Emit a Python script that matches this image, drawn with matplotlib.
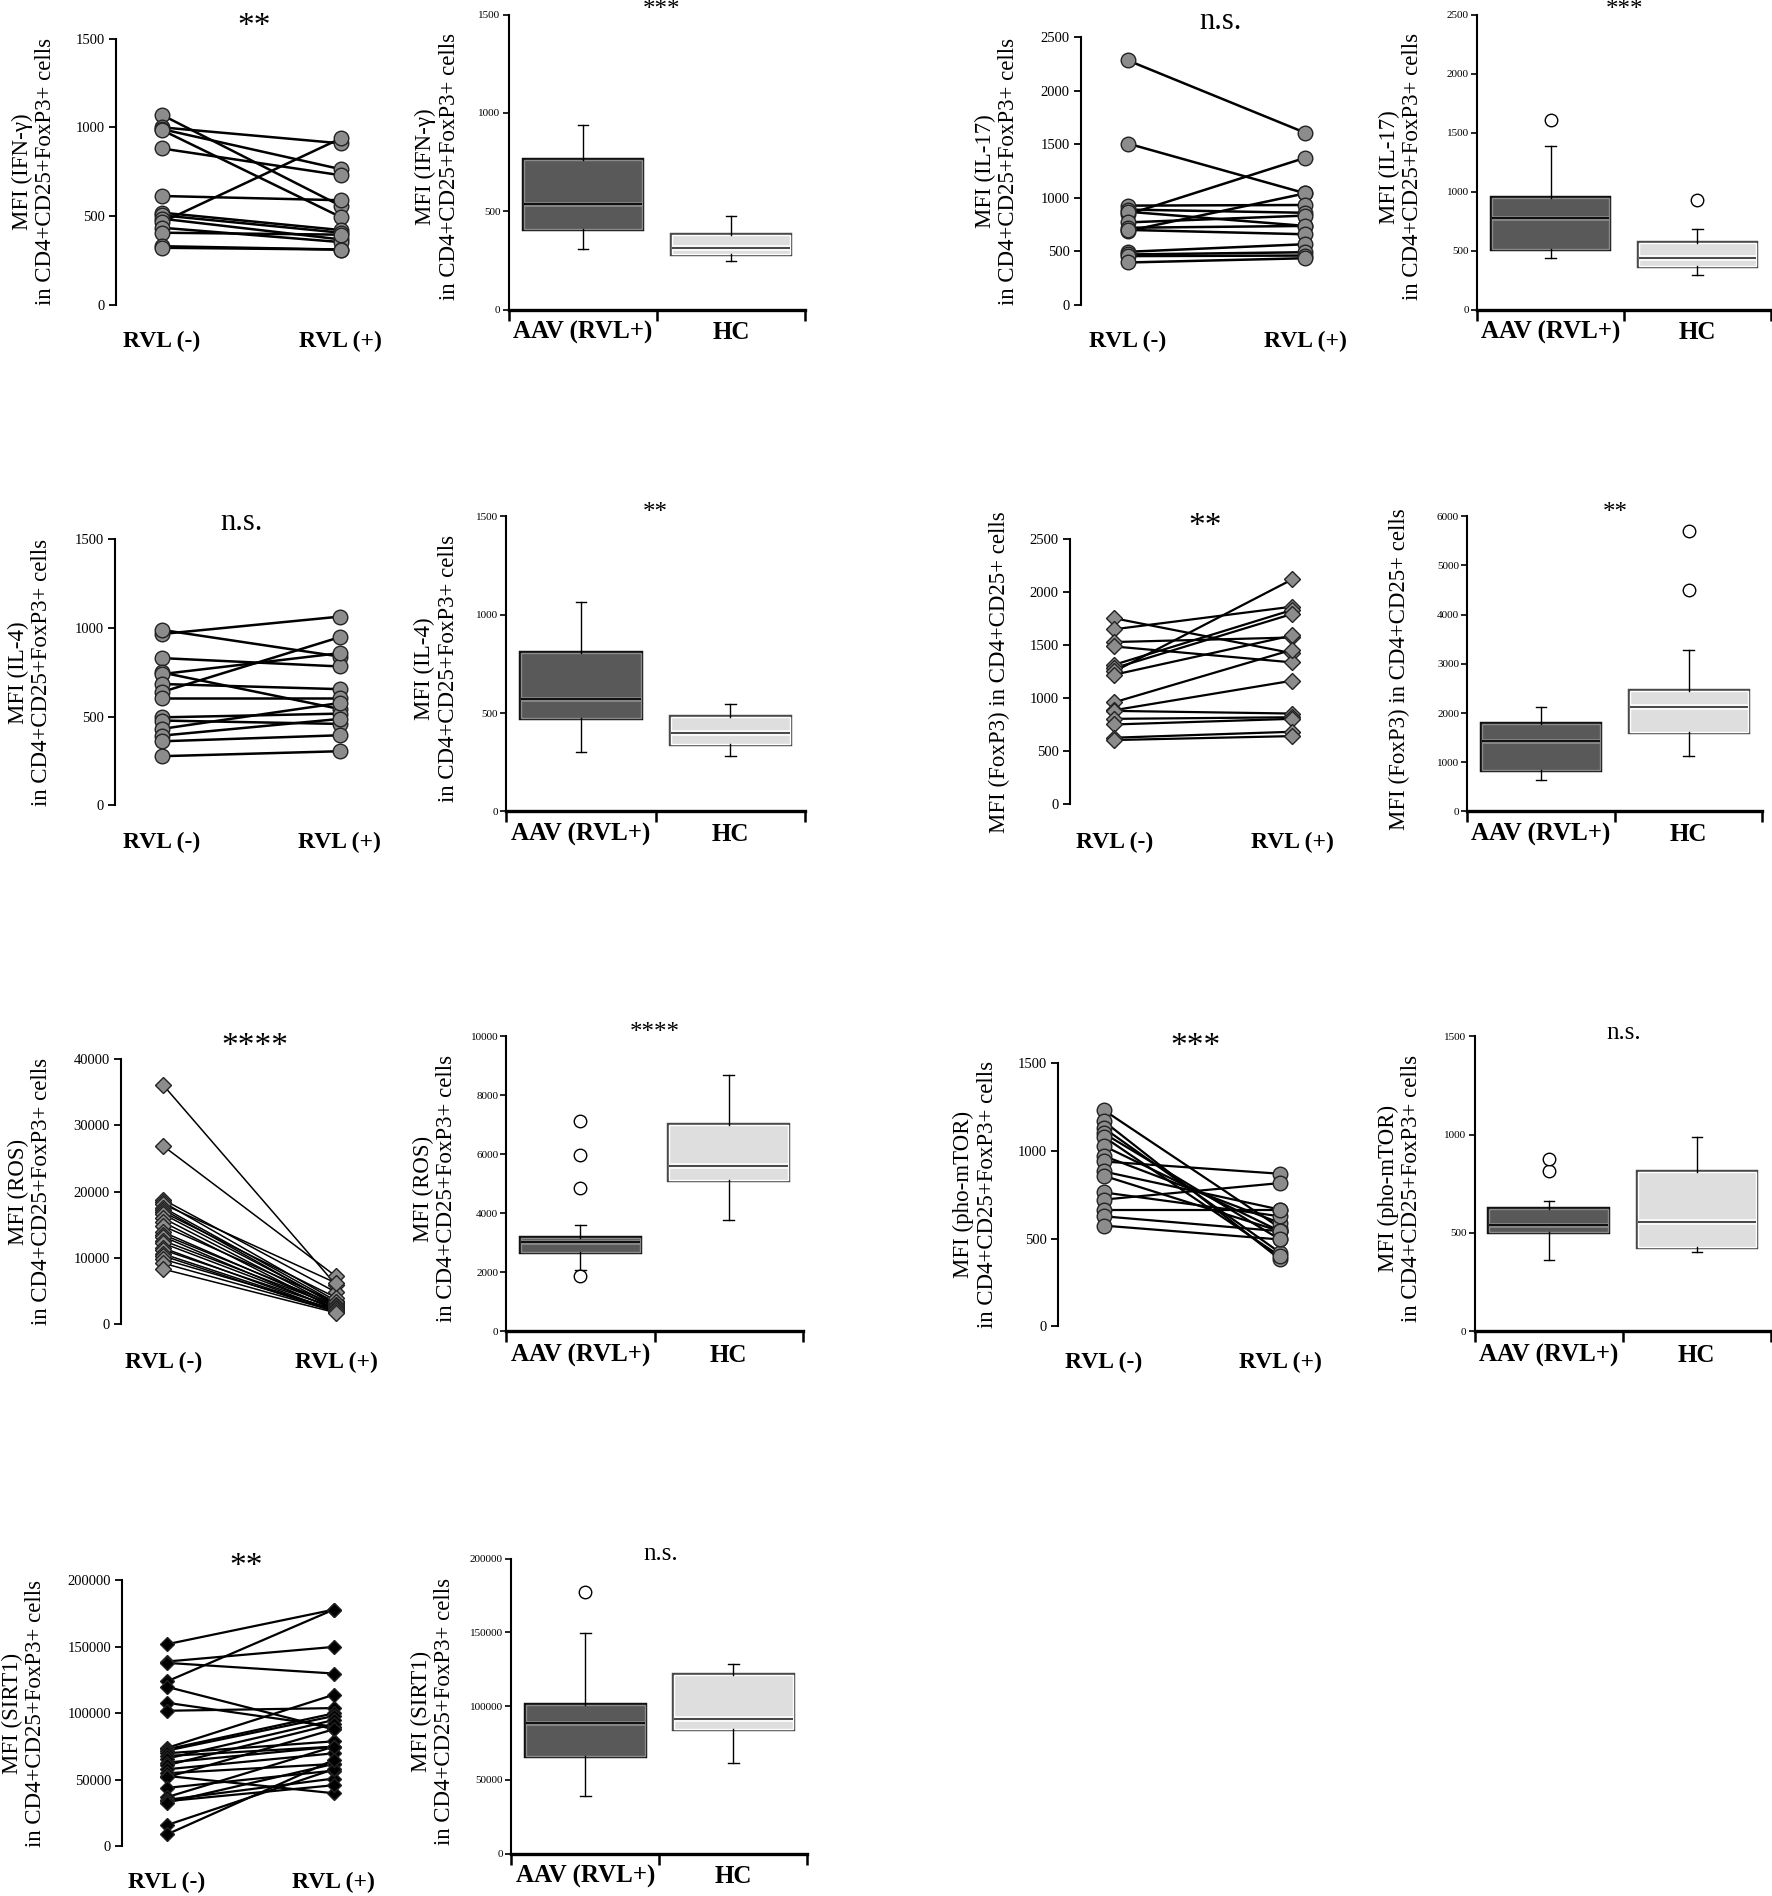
import matplotlib
matplotlib.use("Agg")
import matplotlib.pyplot as plt
import matplotlib.patheffects as pe

plt.rcParams['font.family'] = ['Liberation Serif', 'DejaVu Serif']

# ---------------- DATA ----------------
pair_labels = ["RVL (-)", "RVL (+)"]
box_labels = ["AAV (RVL+)", "HC"]

# IFN-gamma
ifn_rvl_neg = [1070, 1000, 990, 985, 881, 613, 519, 504, 485, 465, 434, 406, 330, 321]
ifn_rvl_pos = [557, 910, 764, 494, 730, 589, 421, 406, 368, 938, 353, 395, 311, 311]
ifn_aav = dict(q1=411, med=538, q3=761, whislo=309, whishi=937, fliers=[])
ifn_hc = dict(q1=280, med=314, q3=379, whislo=246, whishi=475, fliers=[])
ifn_ticks = [0, 500, 1000, 1500]

# IL-17
il17_rvl_neg = [2286, 1508, 845, 690, 927, 890, 870, 770, 720, 700, 495, 470, 455, 395]
il17_rvl_pos = [1608, 1042, 1375, 1042, 933, 860, 737, 834, 737, 659, 566, 491, 460, 435]
il17_aav = dict(q1=510, med=779, q3=943, whislo=439, whishi=1387, fliers=[1603])
il17_hc = dict(q1=368, med=439, q3=566, whislo=297, whishi=680, fliers=[929])
il17_ticks = [0, 500, 1000, 1500, 2000, 2500]

# IL-4
il4_rvl_neg = [966, 989, 830, 749, 740, 684, 639, 605, 496, 478, 431, 393, 361, 277]
il4_rvl_pos = [1064, 839, 783, 543, 858, 655, 948, 605, 517, 459, 577, 487, 395, 305]
il4_aav = dict(q1=476, med=569, q3=807, whislo=302, whishi=1064, fliers=[])
il4_hc = dict(q1=345, med=396, q3=481, whislo=282, whishi=545, fliers=[])
il4_ticks = [0, 500, 1000, 1500]

# FoxP3
foxp3_rvl_neg = [1754, 1651, 1530, 1488, 1316, 1284, 1253, 1222, 962, 887, 880, 805, 752, 627, 605]
foxp3_rvl_pos = [1425, 1864, 1573, 1338, 1833, 1795, 2121, 1592, 1457, 1165, 855, 820, 805, 683, 642]
foxp3_aav = dict(q1=849, med=1427, q3=1773, whislo=632, whishi=2113, fliers=[])
foxp3_hc = dict(q1=1617, med=2127, q3=2446, whislo=1121, whishi=3282, fliers=[4505, 5694])
foxp3_pair_ticks = [0, 500, 1000, 1500, 2000, 2500]
foxp3_box_ticks = [0, 1000, 2000, 3000, 4000, 5000, 6000]

# ROS
ros_rvl_neg = [36100, 26900, 18800, 18400, 18100, 17600, 17300, 16900, 16600, 16000, 15400, 14800,
               13900, 13500, 13200, 12600, 12200, 11500, 11200, 10600, 10300, 9800, 9200, 8300]
ros_rvl_pos = [5900, 7200, 4800, 3500, 6200, 3200, 2800, 4000, 3000, 2600, 2200, 3300,
               2500, 2900, 2100, 2700, 2300, 1900, 2400, 2000, 1800, 2200, 1900, 1700]
ros_aav = dict(q1=2689, med=3028, q3=3164, whislo=2090, whishi=3616, fliers=[1864, 4859, 5989, 7141])
ros_hc = dict(q1=5119, med=5593, q3=6983, whislo=3763, whishi=8678, fliers=[])
ros_pair_ticks = [0, 10000, 20000, 30000, 40000]
ros_box_ticks = [0, 2000, 4000, 6000, 8000, 10000]

# pho-mTOR
mtor_rvl_neg = [1232, 1169, 1130, 1100, 1080, 1028, 971, 939, 882, 858, 763, 722, 665, 627, 574]
mtor_rvl_pos = [561, 382, 420, 495, 400, 542, 589, 869, 665, 542, 627, 816, 665, 542, 495]
mtor_aav = dict(q1=503, med=542, q3=622, whislo=364, whishi=664, fliers=[817, 878])
mtor_hc = dict(q1=427, med=556, q3=810, whislo=403, whishi=986, fliers=[])
mtor_ticks = [0, 500, 1000, 1500]

# SIRT1
sirt_rvl_neg = [152000, 139000, 138000, 124000, 120000, 108000, 102000, 74000, 73000, 72000, 70000,
                68000, 66000, 63000, 61000, 58000, 55000, 53000, 52000, 44000, 37000, 35000, 34000,
                33000, 16000, 9000]
sirt_rvl_pos = [178000, 150000, 130000, 178000, 88000, 90000, 104000, 114000, 100000, 98000, 79000,
                75000, 95000, 75000, 92000, 70000, 62000, 40000, 88000, 57000, 75000, 51000, 46000,
                62000, 58000, 65000]
sirt_aav = dict(q1=66100, med=88700, q3=101100, whislo=39400, whishi=149800, fliers=[177400])
sirt_hc = dict(q1=84200, med=91600, q3=120800, whislo=61500, whishi=128700, fliers=[])
sirt_ticks = [0, 50000, 100000, 150000, 200000]

# ---------------- LAYOUT ----------------
W, H = 1466.0, 1568.0   # reference layout units
fig = plt.figure(figsize=(17.72, 18.96), dpi=100)


def fx(x):
    return x / W


def fy(y):
    return 1 - y / H


def ftext(x, y, s, **kw):
    fig.text(fx(x), fy(y), s, ha='center', va='center', **kw)


def paired(xa, xl, xr, ytop, ybot, ticks, neg, pos, marker, mfc, ms, lw,
           ylabel, ylx, sig, sigxy, sigsize, laby):
    unit = xr - xl
    x_end = xr + 40
    ax = fig.add_axes([fx(xa), fy(ybot), (x_end - xa) / W, (ybot - ytop) / H])
    ax.set_xlim((xa - xl) / unit, (x_end - xl) / unit)
    ax.set_ylim(0, ticks[-1])
    for a, b in zip(neg, pos):
        ax.plot([0, 1], [a, b], color='black', lw=lw, zorder=2, clip_on=False)
    ax.plot([0] * len(neg), neg, linestyle='none', marker=marker, ms=ms, mfc=mfc,
            mec='#222222', mew=1.0, zorder=3, clip_on=False)
    ax.plot([1] * len(pos), pos, linestyle='none', marker=marker, ms=ms, mfc=mfc,
            mec='#222222', mew=1.0, zorder=3, clip_on=False)
    for s in ['top', 'right', 'bottom']:
        ax.spines[s].set_visible(False)
    ax.spines['left'].set_linewidth(1.5)
    ax.set_xticks([])
    ax.set_yticks(ticks)
    ax.set_yticklabels([str(t) for t in ticks])
    ax.tick_params(axis='y', direction='out', length=5, width=1.3, labelsize=10.5, pad=3)
    ax.patch.set_alpha(0)
    ftext(ylx, (ytop + ybot) / 2, ylabel, rotation=90, fontsize=16.5, linespacing=1.15)
    ftext(sigxy[0], sigxy[1], sig, fontsize=sigsize)
    ftext(xl, laby, pair_labels[0], fontsize=17, fontweight='bold')
    ftext(xr, laby, pair_labels[1], fontsize=17, fontweight='bold')
    return ax


def boxpanel(xa, xe, ytop, ybot, ticks, aav, hc, ylabel, ylx, sig, sigxy, sigsize, laby):
    ax = fig.add_axes([fx(xa), fy(ybot), (xe - xa) / W, (ybot - ytop) / H])
    ax.set_xlim(0, 2)
    ax.set_ylim(0, ticks[-1])
    stats = [dict(aav, label=box_labels[0]), dict(hc, label=box_labels[1])]
    res = ax.bxp(stats, positions=[0.5, 1.5], widths=0.8, patch_artist=True,
                 showfliers=True, manage_ticks=False, capwidths=0.07,
                 whiskerprops=dict(color='black', lw=1.0),
                 capprops=dict(color='black', lw=1.0),
                 flierprops=dict(marker='o', mfc='white', mec='black', ms=9, mew=1.0))
    b0, b1 = res['boxes']
    b0.set_facecolor('#595959')
    b0.set_edgecolor('#111111')
    b0.set_linewidth(1.2)
    b0.set_path_effects([pe.Stroke(linewidth=3.2, foreground='#111111'),
                         pe.Stroke(linewidth=1.0, foreground='#8a8a8a')])
    b1.set_facecolor('#dedede')
    b1.set_edgecolor('#555555')
    b1.set_linewidth(1.2)
    b1.set_path_effects([pe.Stroke(linewidth=3.2, foreground='#4a4a4a'),
                         pe.Stroke(linewidth=1.0, foreground='white')])
    m0, m1 = res['medians']
    m0.set_color('#111111')
    m0.set_linewidth(1.5)
    m0.set_path_effects([pe.Stroke(linewidth=3.5, foreground='#8a8a8a'), pe.Normal()])
    m1.set_color('#4a4a4a')
    m1.set_linewidth(1.5)
    m1.set_path_effects([pe.Stroke(linewidth=4.0, foreground='white'), pe.Normal()])
    for s in ['top', 'right']:
        ax.spines[s].set_visible(False)
    ax.spines['left'].set_linewidth(1.5)
    ax.spines['bottom'].set_linewidth(2.4)
    ax.set_xticks([0, 1, 2])
    ax.set_xticklabels(['', '', ''])
    ax.tick_params(axis='x', direction='out', length=8, width=1.8)
    ax.set_yticks(ticks)
    ax.set_yticklabels([str(t) for t in ticks])
    ax.tick_params(axis='y', direction='out', length=4, width=1.2, labelsize=8, pad=2)
    ax.patch.set_alpha(0)
    ftext(ylx, (ytop + ybot) / 2 + 4, ylabel, rotation=90, fontsize=16.5, linespacing=1.15)
    ftext(sigxy[0], sigxy[1], sig, fontsize=sigsize)
    u = (xe - xa) / 2.0
    ftext(xa + 0.5 * u, laby, box_labels[0], fontsize=18, fontweight='bold')
    ftext(xa + 1.5 * u, laby, box_labels[1], fontsize=18, fontweight='bold')
    return ax


circ_gray = '#8c8c8c'

# Row 1
paired(96, 134, 282, 32, 252, ifn_ticks, ifn_rvl_neg, ifn_rvl_pos, 'o', circ_gray, 10.5, 1.8,
       "MFI (IFN-\u03b3)\nin CD4+CD25+FoxP3+ cells", 28, "**", (210, 22), 24, 282)
boxpanel(421, 666, 12, 256, ifn_ticks, ifn_aav, ifn_hc,
         "MFI (IFN-\u03b3)\nin CD4+CD25+FoxP3+ cells", 362, "***", (547, 8), 18, 275)
paired(894, 933, 1080, 31, 252, il17_ticks, il17_rvl_neg, il17_rvl_pos, 'o', circ_gray, 10.5, 1.8,
       "MFI (IL-17)\nin CD4+CD25+FoxP3+ cells", 825, "n.s.", (1010, 18), 22, 282)
boxpanel(1222, 1465, 12, 256, il17_ticks, il17_aav, il17_hc,
         "MFI (IL-17)\nin CD4+CD25+FoxP3+ cells", 1159, "***", (1344, 8), 18, 275)

# Row 2
paired(95, 134, 281, 446, 666, il4_ticks, il4_rvl_neg, il4_rvl_pos, 'o', circ_gray, 10.5, 1.8,
       "MFI (IL-4)\nin CD4+CD25+FoxP3+ cells", 25, "n.s.", (200, 432), 22, 697)
boxpanel(419, 666, 427, 671, il4_ticks, il4_aav, il4_hc,
         "MFI (IL-4)\nin CD4+CD25+FoxP3+ cells", 361, "**", (542, 424), 18, 690)
paired(885, 922, 1069, 446, 665, foxp3_pair_ticks, foxp3_rvl_neg, foxp3_rvl_pos, 'D', circ_gray, 8, 1.6,
       "MFI (FoxP3) in CD4+CD25+ cells", 827, "**", (997, 436), 24, 697)
boxpanel(1214, 1458, 427, 671, foxp3_box_ticks, foxp3_aav, foxp3_hc,
         "MFI (FoxP3) in CD4+CD25+ cells", 1158, "**", (1336, 424), 18, 690)

# Row 3
paired(100, 135, 278, 876, 1095, ros_pair_ticks, ros_rvl_neg, ros_rvl_pos, 'D', circ_gray, 8, 1.1,
       "MFI (ROS)\nin CD4+CD25+FoxP3+ cells", 25, "****", (211, 866), 24, 1127)
boxpanel(419, 664, 857, 1101, ros_box_ticks, ros_aav, ros_hc,
         "MFI (ROS)\nin CD4+CD25+FoxP3+ cells", 360, "****", (542, 854), 18, 1121)
paired(875, 913, 1059, 879, 1097, mtor_ticks, mtor_rvl_neg, mtor_rvl_pos, 'o', circ_gray, 10.5, 1.6,
       "MFI (pho-mTOR)\nin CD4+CD25+FoxP3+ cells", 807, "***", (989, 866), 24, 1127)
boxpanel(1220, 1465, 857, 1101, mtor_ticks, mtor_aav, mtor_hc,
         "MFI (pho-mTOR)\nin CD4+CD25+FoxP3+ cells", 1158, "n.s.", (1343, 854), 18, 1121)

# Row 4
paired(101, 138, 276, 1307, 1527, sirt_ticks, sirt_rvl_neg, sirt_rvl_pos, 'D', 'black', 7, 1.6,
       "MFI (SIRT1)\nin CD4+CD25+FoxP3+ cells", 20, "**", (204, 1296), 24, 1557)
boxpanel(423, 668, 1289, 1533, sirt_ticks, sirt_aav, sirt_hc,
         "MFI (SIRT1)\nin CD4+CD25+FoxP3+ cells", 358, "n.s.", (547, 1285), 18, 1552)

fig.savefig("out.png", dpi=100)
